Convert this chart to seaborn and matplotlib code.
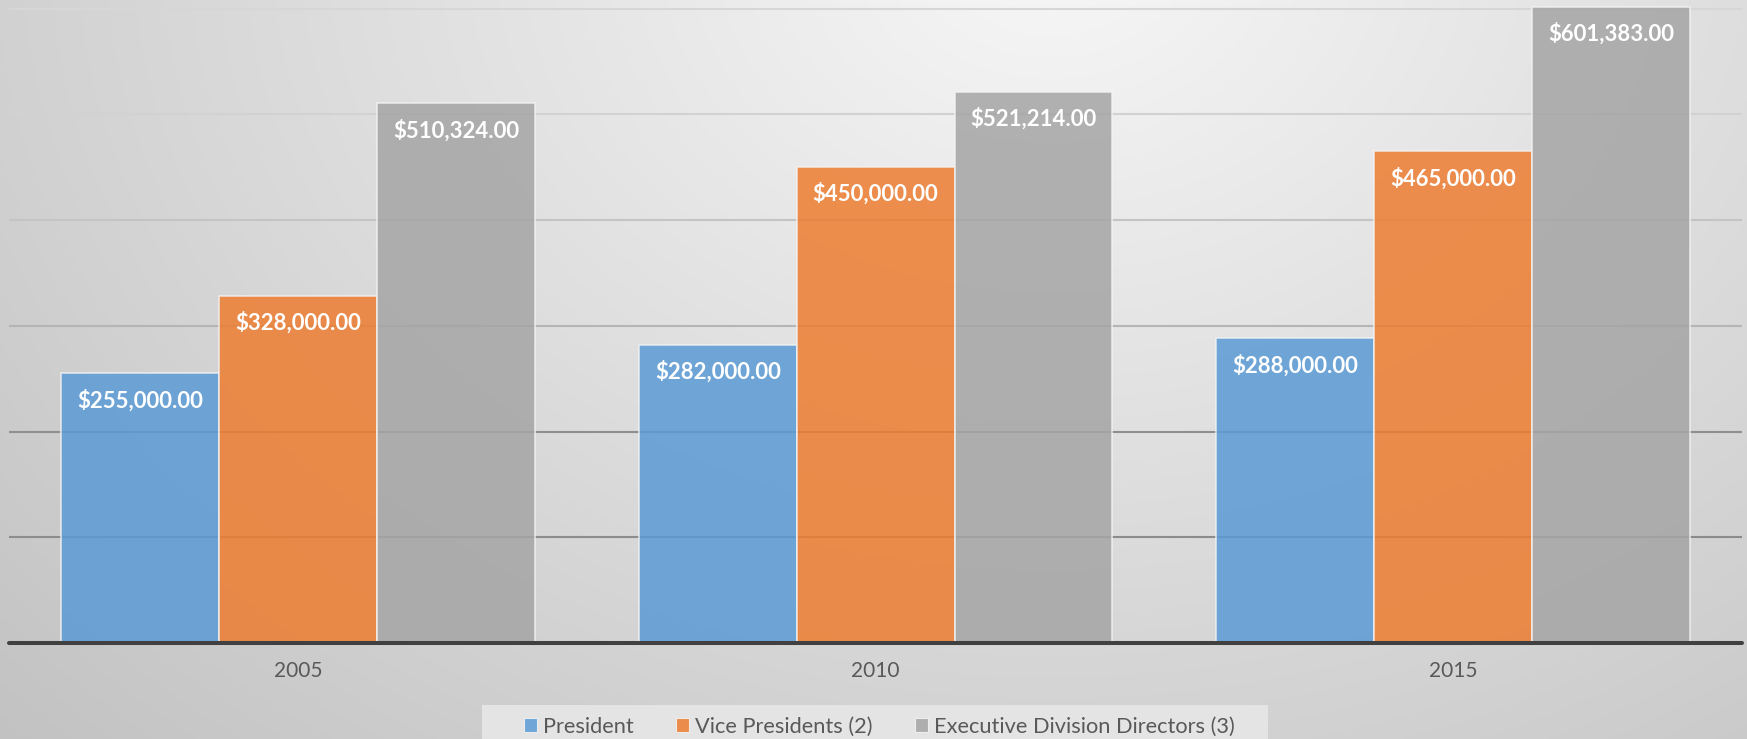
import numpy as np
import pandas as pd
import matplotlib
matplotlib.use("Agg")
import matplotlib.pyplot as plt
from matplotlib.patches import Patch, Rectangle
import seaborn as sns

# ---- data -------------------------------------------------------------
years = ["2005", "2010", "2015"]
roles = ["President", "Vice Presidents (2)", "Executive Division Directors (3)"]
president = [255000.00, 282000.00, 288000.00]
vice_presidents = [328000.00, 450000.00, 465000.00]
division_directors = [510324.00, 521214.00, 601383.00]
grid_values = [100000, 200000, 300000, 400000, 500000, 600000]

palette = ["#5B9BD5", "#ED7D31", "#A5A5A5"]

df = pd.DataFrame({
    "Year": years * 3,
    "Role": [r for r in roles for _ in years],
    "Salary": president + vice_presidents + division_directors,
})

# ---- figure -----------------------------------------------------------
W, H, DPI = 1747, 739, 100
sns.set_theme(style="white")
plt.rcParams["font.family"] = ["Lato", "DejaVu Sans"]
fig = plt.figure(figsize=(W / DPI, H / DPI), dpi=DPI)

# soft radial grey backdrop
bg = fig.add_axes([0, 0, 1, 1], zorder=-10)
yy, xx = np.mgrid[0:H, 0:W]
dist = np.sqrt((xx - 1050.0) ** 2 + (1.3 * (yy + 50.0)) ** 2)
shade = np.clip(247 - 0.036 * dist, 185, 250) / 255.0
bg.imshow(np.dstack([shade, shade, shade]), extent=(0, W, H, 0), aspect="auto")
bg.set_xlim(0, W)
bg.set_ylim(H, 0)
bg.axis("off")

# plotting area in pixel terms
left_px, right_px, base_px = 9.3, 1742.0, 643.0
ax = fig.add_axes([left_px / W, (H - base_px) / H, (right_px - left_px) / W, base_px / H])
ax.set_facecolor("none")

px_per_unit = 105.75 / 100000.0
ax.set_ylim(0, base_px / px_per_unit)

# horizontal gridlines
grid_colors = ["#8C8C8C", "#8F8F8F", "#B5B5B5", "#C4C4C4", "#D2D2D2", "#D6D6D6"]
for gv, gc in zip(grid_values, grid_colors):
    ax.axhline(gv, color=gc, lw=1.5, zorder=0.5)

sns.barplot(
    data=df, x="Year", y="Salary", hue="Role", hue_order=roles,
    palette=palette, width=0.82, alpha=0.85, saturation=1,
    edgecolor="#F4F4F4", linewidth=1.1, legend=False, ax=ax, zorder=2,
)
ax.set_xlim(-0.5, 2.5)

# value labels inside bar tops
for cont, vals in zip(ax.containers, [president, vice_presidents, division_directors]):
    for bar, v in zip(cont, vals):
        ax.annotate(
            f"${v:,.2f}",
            xy=(bar.get_x() + bar.get_width() / 2, v),
            xytext=(0, -24.5), textcoords="offset points",
            ha="center", va="baseline", color="white",
            fontsize=15.9, fontweight="bold", zorder=5,
        )

# dark category axis line
ax.axhline(0, color="#404040", lw=2.9, zorder=4, clip_on=False)

for s in ax.spines.values():
    s.set_visible(False)
ax.set_yticks([])
ax.set_xlabel("")
ax.set_ylabel("")
ax.tick_params(axis="x", length=0, pad=13, labelsize=15, labelcolor="#595959")

# legend backdrop panel and entries
fig.patches.append(Rectangle((482 / W, 0), (1268 - 482) / W, (H - 705) / H,
                             transform=fig.transFigure, facecolor="#E4E4E4",
                             edgecolor="none", zorder=-5))
handles = [Patch(facecolor=c, edgecolor="#F4F4F4", alpha=0.85, linewidth=0.8) for c in palette]
fig.legend(
    handles, roles, loc="center left",
    bbox_to_anchor=(524 / W, 1 - 727 / H), bbox_transform=fig.transFigure,
    ncol=3, frameon=False, borderpad=0, borderaxespad=0,
    fontsize=15.7, labelcolor="#595959",
    handlelength=0.6, handleheight=0.6, handletextpad=0.28, columnspacing=1.93,
)

fig.savefig("out.png", dpi=DPI)
